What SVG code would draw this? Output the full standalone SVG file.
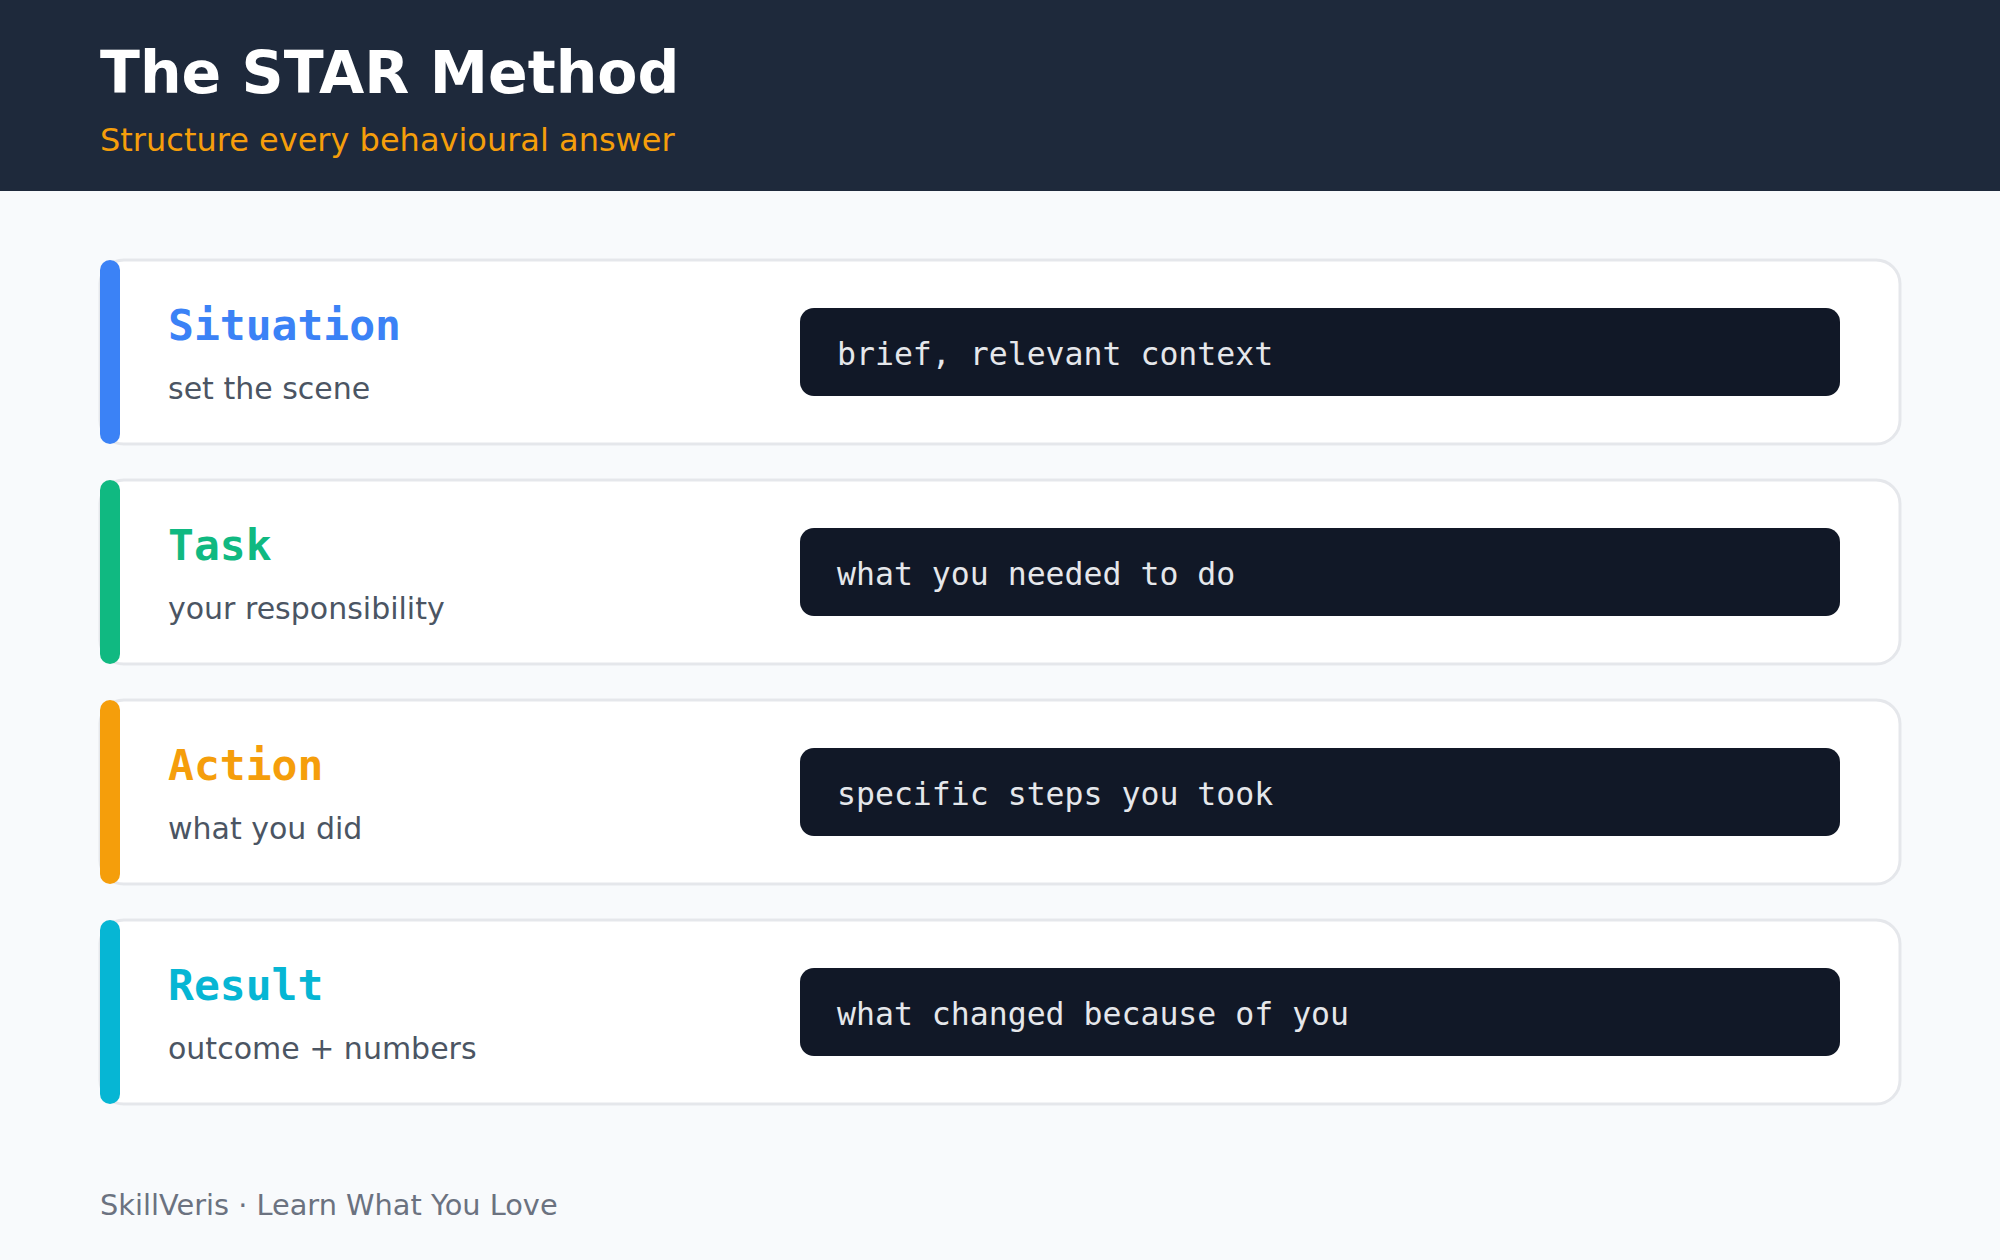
<svg xmlns="http://www.w3.org/2000/svg" width="2000" height="1260" viewBox="0 0 2000 1260">
<style>
.title{font-family:"DejaVu Sans",sans-serif;font-weight:bold;font-size:58.5px;fill:#ffffff}
.subtitle{font-family:"DejaVu Sans",sans-serif;font-size:32px;fill:#f59e0b}
.card{fill:#ffffff;stroke:#e5e7eb;stroke-width:3}
.head{font-family:"DejaVu Sans Mono",monospace;font-weight:bold;font-size:43px}
.sub{font-family:"DejaVu Sans",sans-serif;font-size:30px;fill:#4b5563}
.box{fill:#111827}
.code{font-family:"DejaVu Sans Mono",monospace;font-size:31.5px;fill:#e5e7eb}
.footer{font-family:"DejaVu Sans",sans-serif;font-size:28.8px;fill:#6b7280}
</style>
<rect x="0" y="0" width="2000" height="1260" fill="#f8fafc"/>
<g id="header">
<rect x="0" y="0" width="2000" height="191" fill="#1e293b"/>
<text class="title" x="100" y="93">The STAR Method</text>
<text class="subtitle" x="100" y="151">Structure every behavioural answer</text>
</g>
<g id="connectors"></g>
<g id="situation">
<rect class="card" x="100" y="260" width="1800" height="184" rx="24"/>
<rect x="100" y="260" width="20" height="184" rx="10" fill="#3b82f6"/>
<text class="head" x="168" y="340" fill="#3b82f6">Situation</text>
<text class="sub" x="168" y="399">set the scene</text>
<rect class="box" x="800" y="308" width="1040" height="88" rx="14"/>
<text class="code" x="837" y="365">brief, relevant context</text>
</g>
<g id="task">
<rect class="card" x="100" y="480" width="1800" height="184" rx="24"/>
<rect x="100" y="480" width="20" height="184" rx="10" fill="#10b981"/>
<text class="head" x="168" y="560" fill="#10b981">Task</text>
<text class="sub" x="168" y="619">your responsibility</text>
<rect class="box" x="800" y="528" width="1040" height="88" rx="14"/>
<text class="code" x="837" y="585">what you needed to do</text>
</g>
<g id="action">
<rect class="card" x="100" y="700" width="1800" height="184" rx="24"/>
<rect x="100" y="700" width="20" height="184" rx="10" fill="#f59e0b"/>
<text class="head" x="168" y="780" fill="#f59e0b">Action</text>
<text class="sub" x="168" y="839">what you did</text>
<rect class="box" x="800" y="748" width="1040" height="88" rx="14"/>
<text class="code" x="837" y="805">specific steps you took</text>
</g>
<g id="result">
<rect class="card" x="100" y="920" width="1800" height="184" rx="24"/>
<rect x="100" y="920" width="20" height="184" rx="10" fill="#06b6d4"/>
<text class="head" x="168" y="1000" fill="#06b6d4">Result</text>
<text class="sub" x="168" y="1059">outcome + numbers</text>
<rect class="box" x="800" y="968" width="1040" height="88" rx="14"/>
<text class="code" x="837" y="1025">what changed because of you</text>
</g>
<g id="footer">
<text class="footer" x="100" y="1215">SkillVeris · Learn What You Love</text>
</g>
</svg>
